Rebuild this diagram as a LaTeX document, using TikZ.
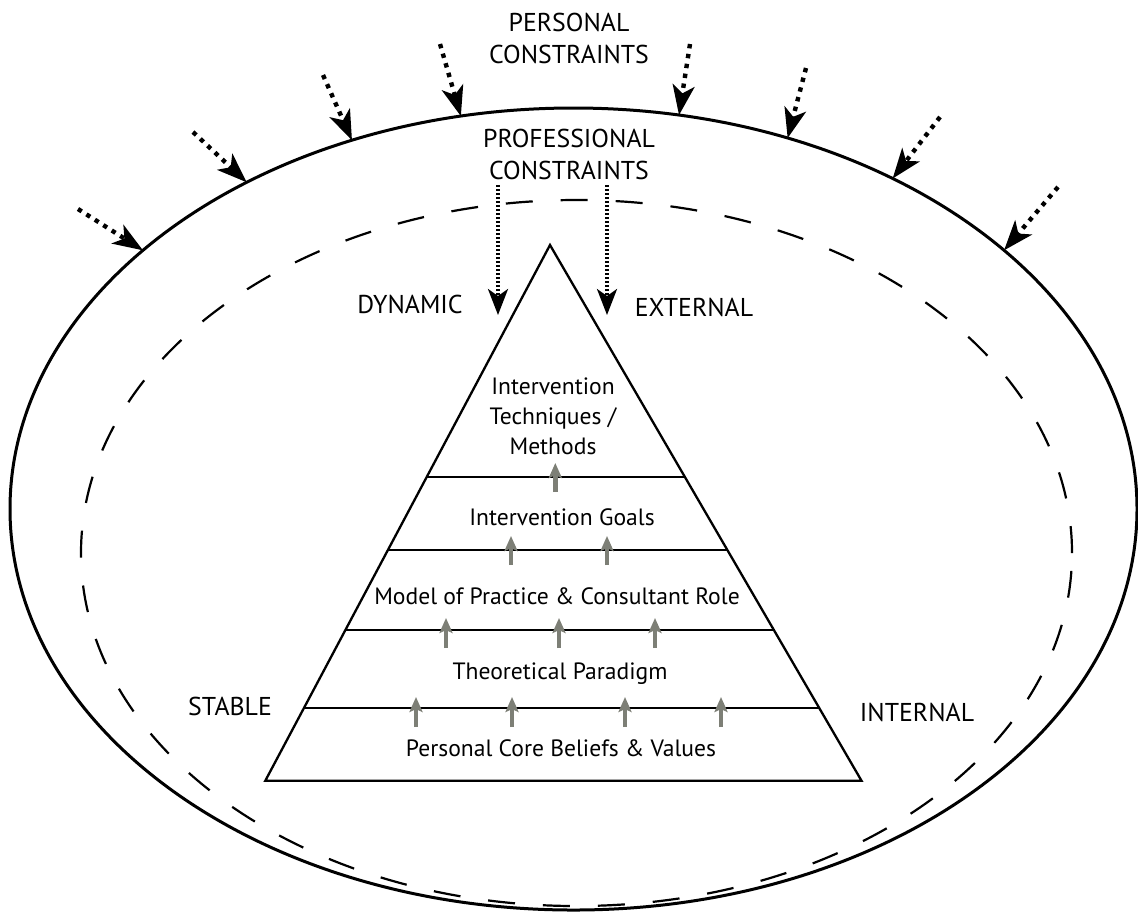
\documentclass[tikz,border=0pt]{standalone}
\usepackage{fontspec}
\setmainfont{PT Sans}
\usetikzlibrary{shapes.geometric,arrows.meta,calc}
\definecolor{risegray}{RGB}{125,127,118}

\begin{document}
\begin{tikzpicture}[x=0.5pt,y=-0.5pt,
	side/.style={font=\fontsize{12.9}{16}\selectfont, align=center, inner sep=0pt},
	lay/.style={font=\fontsize{11.8}{15}\selectfont, align=center, inner sep=0pt, text depth=0pt},
	push/.style={line width=2.2pt, dash pattern=on 2.2pt off 2.8pt, -{Stealth[length=15pt,width=11pt,inset=4pt]}},
	drop/.style={line width=1.6pt, dash pattern=on 1pt off 1pt, -{Stealth[length=13pt,width=10pt,inset=3.5pt]}},
	rise/.style={risegray, line width=2.2pt, -{Stealth[length=7.5pt,width=6.5pt,inset=1.5pt]}}]
	\useasboundingbox (0,0) rectangle (1138,912);
	\node[draw, ellipse, line width=1.5pt, minimum width=563.5pt, minimum height=401pt, inner sep=0pt, outer sep=0pt] (O)at(573.5,509) {};
	\node[draw, ellipse, line width=1.1pt, dash pattern=on 13.5pt off 14pt, minimum width=495.5pt, minimum height=353pt, inner sep=0pt, outer sep=0pt] (I)at(576.5,553) {};
	\node[side] (PC)at(569,38) {PERSONAL\\CONSTRAINTS};
	\node[side] (PF)at(569,154) {PROFESSIONAL\\CONSTRAINTS};
	\node[side] (Dy)at(410,304) {DYNAMIC};
	\node[side] (Ex)at(694,307) {EXTERNAL};
	\node[side] (St)at(230,706) {STABLE};
	\node[side] (In)at(917,712) {INTERNAL};
	% pyramid
	\coordinate (T)at(550,245);
	\coordinate (L)at(265.3,780.7);
	\coordinate (R)at(861.5,780.7);
	\draw[line width=1.15pt] (T) -- (L) -- (R) -- cycle;
	\draw[line width=1.15pt] ($(T)!0.4325!(L)$) -- ($(T)!0.4325!(R)$);
	\draw[line width=1.15pt] ($(T)!0.5693!(L)$) -- ($(T)!0.5693!(R)$);
	\draw[line width=1.15pt] ($(T)!0.7187!(L)$) -- ($(T)!0.7187!(R)$);
	\draw[line width=1.15pt] ($(T)!0.8649!(L)$) -- ($(T)!0.8649!(R)$);
	\node[lay] (M)at(553,416) {Intervention\\Techniques /\\Methods};
	\node[lay] (G)at(562,517) {Intervention Goals};
	\node[lay] (Mo)at(557,596) {Model of Practice \& Consultant Role};
	\node[lay] (Th)at(560,671) {Theoretical Paradigm};
	\node[lay] (Co)at(561,748) {Personal Core Beliefs \& Values};
	% grey arrows between the layers
	\draw[rise] (555.3,492) -- (555.3,463);
	\draw[rise] (511,565) -- (511,536);
	\draw[rise] (607,565) -- (607,536);
	\draw[rise] (446,648) -- (446,618);
	\draw[rise] (559,648) -- (559,618);
	\draw[rise] (655,648) -- (655,618);
	\draw[rise] (416,727) -- (416,697);
	\draw[rise] (512,727) -- (512,697);
	\draw[rise] (625,727) -- (625,697);
	\draw[rise] (721,727) -- (721,697);
	% professional constraints
	\coordinate (d1)at(498,185);
	\coordinate (e1)at(498,315);
	\coordinate (d2)at(607,185);
	\coordinate (e2)at(607,315);
	\draw[drop] (d1) -- (e1);
	\draw[drop] (d2) -- (e2);
	% personal constraints
	\coordinate (s1)at(78,209);
	\coordinate (s2)at(193,132);
	\coordinate (s3)at(323,75);
	\coordinate (s4)at(440,44);
	\coordinate (s5)at(690,44);
	\coordinate (s6)at(806,68);
	\coordinate (s7)at(940,117);
	\coordinate (s8)at(1058,187);
	\draw[push] (s1) -- (O.149.8);
	\draw[push] (s2) -- (O.135.7);
	\draw[push] (s3) -- (O.121.2);
	\draw[push] (s4) -- (O.106.8);
	\draw[push] (s5) -- (O.75.3);
	\draw[push] (s6) -- (O.60.6);
	\draw[push] (s7) -- (O.46.3);
	\draw[push] (s8) -- (O.31.9);
\end{tikzpicture}
\end{document}
